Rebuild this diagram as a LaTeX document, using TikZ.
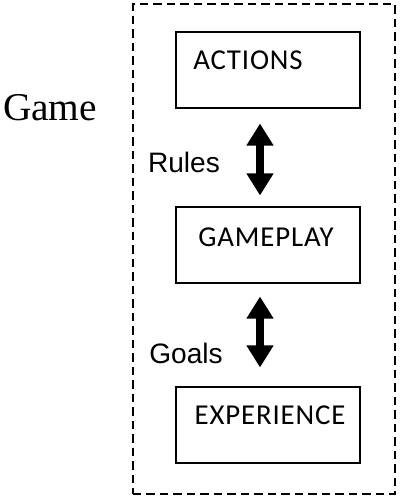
\documentclass[tikz,border=0pt]{standalone}
\usepackage{fontspec}
\setmainfont{Liberation Serif}
\newfontfamily\boxfont[LetterSpace=3]{Carlito}
\newfontfamily\labelfont{Liberation Sans}
\usepackage{tikz}
\usetikzlibrary{arrows.meta, positioning, calc}

\tikzset{
  stagebox/.style={draw, line width=1.3pt, minimum width=4.6cm, minimum height=1.88cm, inner sep=0pt},
  stagetext/.style={font=\boxfont\fontsize{20.5}{24}\selectfont, inner sep=0pt},
  linktext/.style={font=\labelfont\fontsize{20}{24}\selectfont, inner sep=0pt},
  linkarrow/.style={line width=0.22cm, {Triangle[width=0.64cm,length=0.55cm]}-{Triangle[width=0.64cm,length=0.55cm]}}
}

\begin{document}
\begin{tikzpicture}
  \useasboundingbox (0,0) rectangle (10,12.5);
  \node[draw, line width=1.3pt, dash pattern=on 6pt off 3.6pt, minimum width=6.55cm, minimum height=12.25cm, inner sep=0pt] (frame) at (6.6,6.275) {};
  \node[font=\fontsize{28}{32}\selectfont, inner sep=0pt] (game) at (1.25,9.8) {Game};

  \node[stagebox] (actions) at (6.7,10.75) {};
  \node[stagebox] (gameplay) at (6.7,6.375) {};
  \node[stagebox] (experience) at (6.7,1.875) {};
  \node[stagetext] (actionstxt) at ([xshift=-0.5cm,yshift=0.25cm]actions.center) {ACTIONS};
  \node[stagetext] (gameplaytxt) at ([xshift=-0.05cm,yshift=0.2cm]gameplay.center) {GAMEPLAY};
  \node[stagetext] (experiencetxt) at ([xshift=0.05cm,yshift=0.25cm]experience.center) {EXPERIENCE};

  \draw[linkarrow] ([xshift=-0.2cm,yshift=-0.375cm]actions.south) -- ([xshift=-0.2cm,yshift=0.275cm]gameplay.north);
  \draw[linkarrow] ([xshift=-0.2cm,yshift=-0.325cm]gameplay.south) -- ([xshift=-0.2cm,yshift=0.475cm]experience.north);

  \node[linktext] (rules) at (4.6,8.45) {Rules};
  \node[linktext] (goals) at (4.65,3.675) {Goals};
\end{tikzpicture}
\end{document}
